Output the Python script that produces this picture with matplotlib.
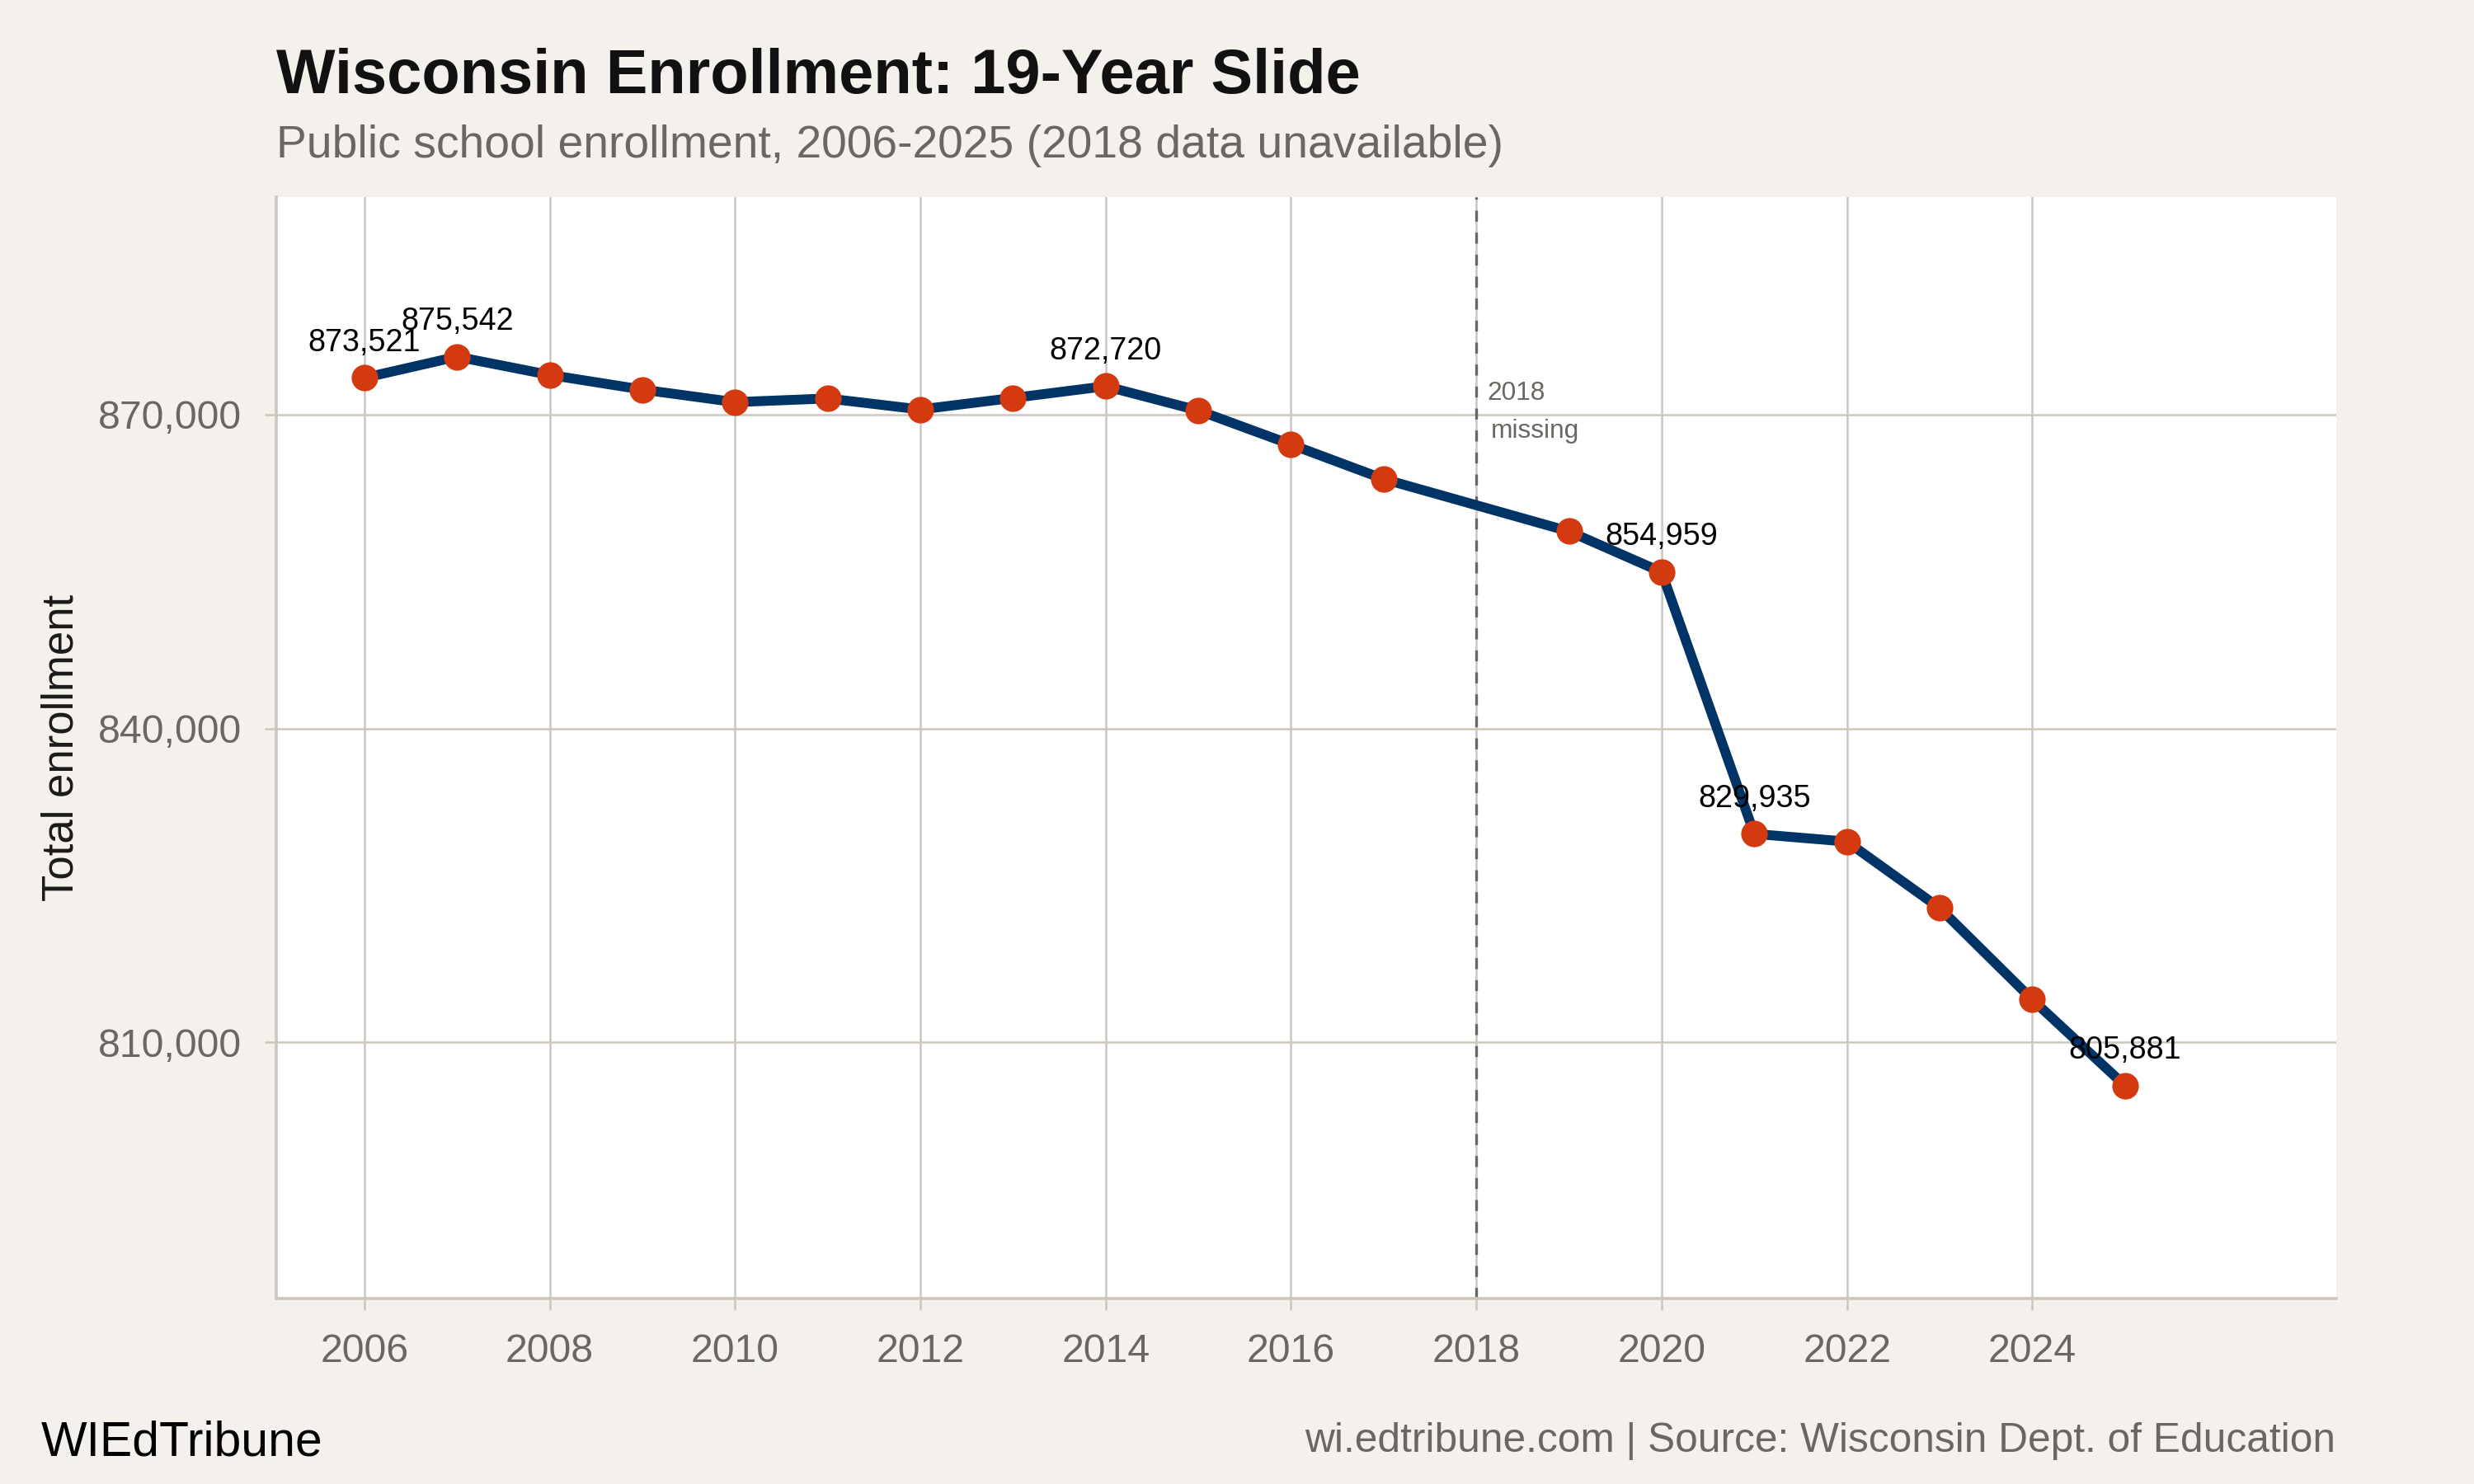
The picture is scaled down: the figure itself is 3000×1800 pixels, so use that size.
import matplotlib
matplotlib.use("Agg")
import matplotlib.pyplot as plt
from matplotlib.ticker import FuncFormatter

years = [2006, 2007, 2008, 2009, 2010, 2011, 2012, 2013, 2014, 2015,
         2016, 2017, 2019, 2020, 2021, 2022, 2023, 2024, 2025]
enrollment = [873521, 875542, 873800, 872400, 871200, 871550, 870500, 871600,
              872720, 870400, 867150, 863850, 858850, 854959, 829935, 829200,
              822850, 814100, 805881]
labeled_years = [2006, 2007, 2014, 2020, 2021, 2025]
x_ticks = [2006, 2008, 2010, 2012, 2014, 2016, 2018, 2020, 2022, 2024]
y_ticks = [810000, 840000, 870000]
missing_year = 2018

title = "Wisconsin Enrollment: 19-Year Slide"
subtitle = "Public school enrollment, 2006-2025 (2018 data unavailable)"
ylabel = "Total enrollment"
brand = "WIEdTribune"
source = "wi.edtribune.com | Source: Wisconsin Dept. of Education"

plt.rcParams['font.family'] = ['Liberation Sans', 'DejaVu Sans']

BG = '#f4f1ec'
GRID = '#ccc6bd'
GREY = '#6b6661'
NAVY = '#003366'
ORANGE = '#d43a0f'

W, H = 3000, 1800
fig = plt.figure(figsize=(15, 9), dpi=200, facecolor=BG)
ax = fig.add_axes([0.1117, 0.125, 0.8326, 0.742])
ax.set_facecolor('white')

ax.plot(years, enrollment, color=NAVY, lw=4.3, zorder=3, solid_joinstyle='round',
        solid_capstyle='round')
ax.plot(years, enrollment, 'o', color=ORANGE, ms=11.6, mec='none', zorder=4)

for yr, val in zip(years, enrollment):
    if yr in labeled_years:
        ax.annotate(f"{val:,}", (yr, val), xytext=(0, 11.8), textcoords='offset points',
                    ha='center', va='baseline', fontsize=13.6, color='black', zorder=5)

ax.axvline(missing_year, color='#666666', lw=1.2, linestyle=(0, (4, 4)), zorder=2)
ax.annotate("2018", (missing_year, 870000), xytext=(4.6, 6.5), textcoords='offset points',
            fontsize=11.4, color=GREY, ha='left', va='baseline', zorder=5)
ax.annotate("missing", (missing_year, 870000), xytext=(6.4, -10.0), textcoords='offset points',
            fontsize=11.4, color=GREY, ha='left', va='baseline', zorder=5)

ax.set_xlim(2005.05, 2027.28)
ax.set_ylim(785530, 890770)
ax.set_xticks(x_ticks)
ax.set_yticks(y_ticks)
ax.yaxis.set_major_formatter(FuncFormatter(lambda v, p: f"{int(v):,}"))

ax.grid(True, color=GRID, lw=0.9, zorder=0)
ax.set_axisbelow(True)
for s in ['top', 'right']:
    ax.spines[s].set_visible(False)
for s in ['left', 'bottom']:
    ax.spines[s].set_color(GRID)
    ax.spines[s].set_linewidth(1.3)

ax.tick_params(axis='both', colors=GRID, labelcolor=GREY, labelsize=17.4,
               length=5.2, width=0.9, pad=10)

fig.text(88.3 / W, 1 - 907 / H, ylabel, fontsize=19, color='#1a1a1a', rotation=90,
         rotation_mode='anchor', ha='center', va='baseline')

fig.text(335 / W, 1 - 113 / H, title, fontsize=27.3, fontweight='bold',
         color='#111111', ha='left', va='baseline')
fig.text(335 / W, 1 - 191 / H, subtitle, fontsize=19.9, color=GREY,
         ha='left', va='baseline')
fig.text(50 / W, 1 - 1766 / H, brand, fontsize=21.2, color='black',
         ha='left', va='baseline')
fig.text(2832 / W, 1 - 1761 / H, source, fontsize=17.85, color=GREY,
         ha='right', va='baseline')

fig.savefig('out.png', dpi=200, facecolor=BG)
